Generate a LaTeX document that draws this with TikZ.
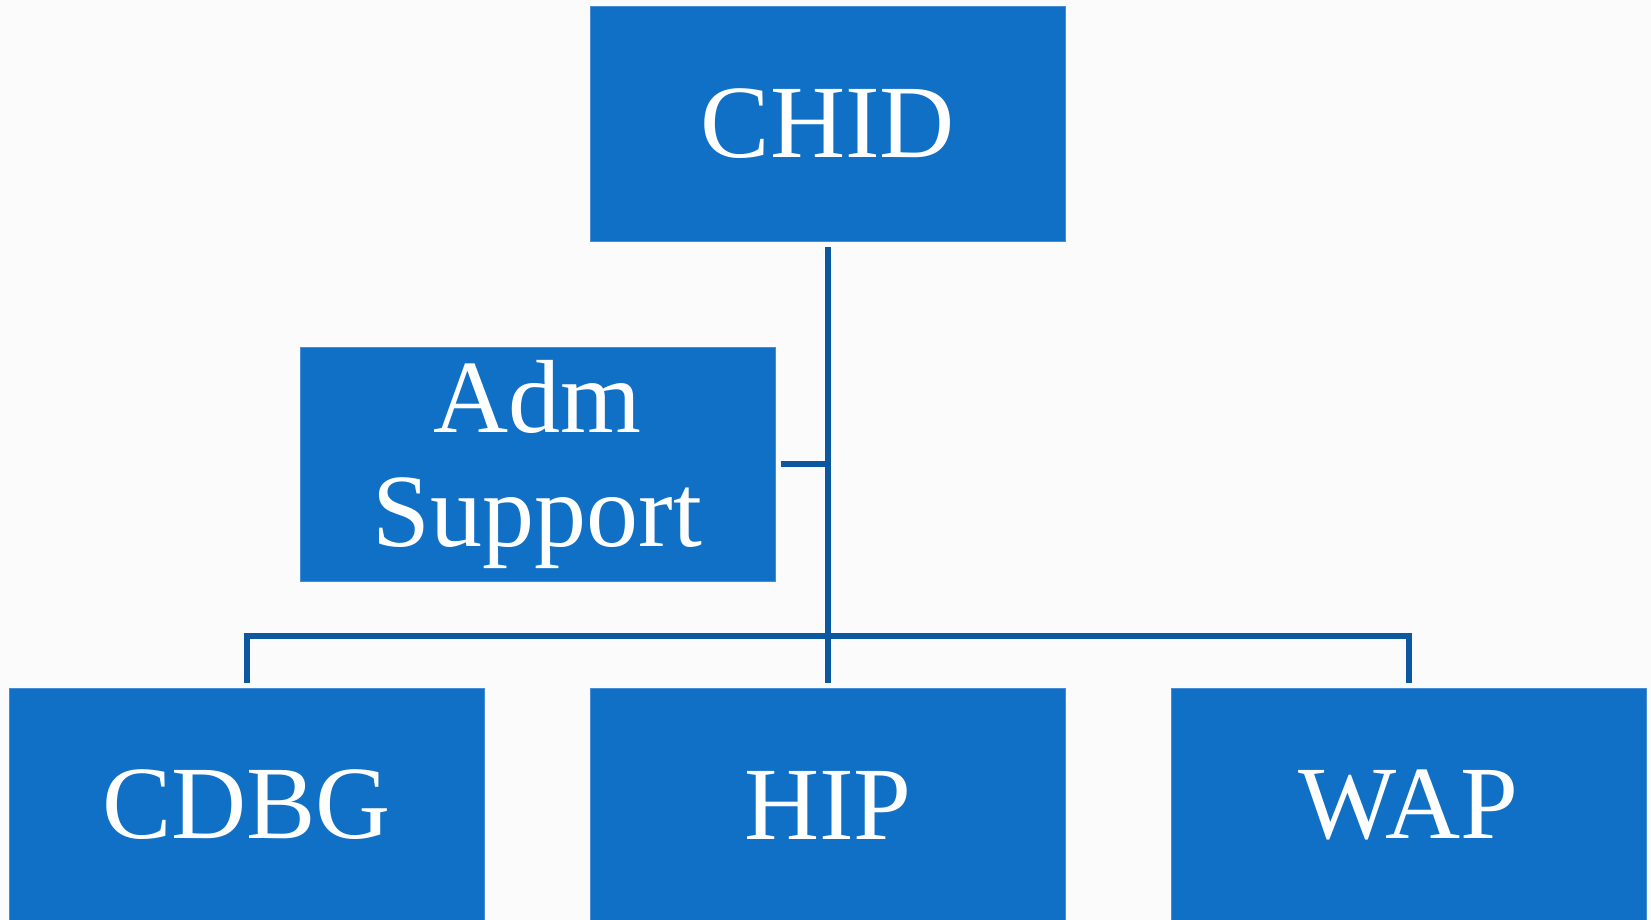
\documentclass[tikz,border=0pt]{standalone}
\usepackage{fontspec}
\setmainfont{Liberation Serif}
\usetikzlibrary{shapes,arrows,fit,positioning}
\definecolor{boxblue}{RGB}{16,112,198}
\definecolor{lineblue}{RGB}{12,88,160}
\definecolor{edgeblue}{RGB}{70,140,215}
\definecolor{paper}{RGB}{251,251,251}

\begin{document}
\begin{tikzpicture}[x=1pt,y=-1pt,% pixel units, y downwards
			every node/.style={
				align=center,  		% so that "\\" breaks lines
				minimum width=475pt,
				minimum height=234pt,
				inner sep=0pt,
				outer sep=5.5pt,	% gap between box and connector
				font=\fontsize{104}{114}\selectfont,
				text=white
			},
			unit/.style={rectangle,fill=boxblue,draw=edgeblue,line width=1pt},
			link/.style={draw=lineblue,line width=6pt}
		]
		\fill[paper] (0,0) rectangle (1651,920);
		\clip (0,0) rectangle (1651,920);
		\node[unit](chid) at (828,124){CHID};
		\node[unit](adm) at (537.5,464){Adm\\Support};
		\node[unit](cdbg) at (246.5,805){CDBG};
		\node[unit](hip) at (828,805){HIP};
		\node[unit](wap) at (1408.5,805){WAP};
		\coordinate (bus) at (828,636);
		\path[link]
		(chid.south) -- (hip.north)
		(adm.east) -- (adm.east -| chid.south)
		;
		\draw[link,line join=miter] (cdbg.north) |- (bus) -| (wap.north);
	\end{tikzpicture}
\end{document}
